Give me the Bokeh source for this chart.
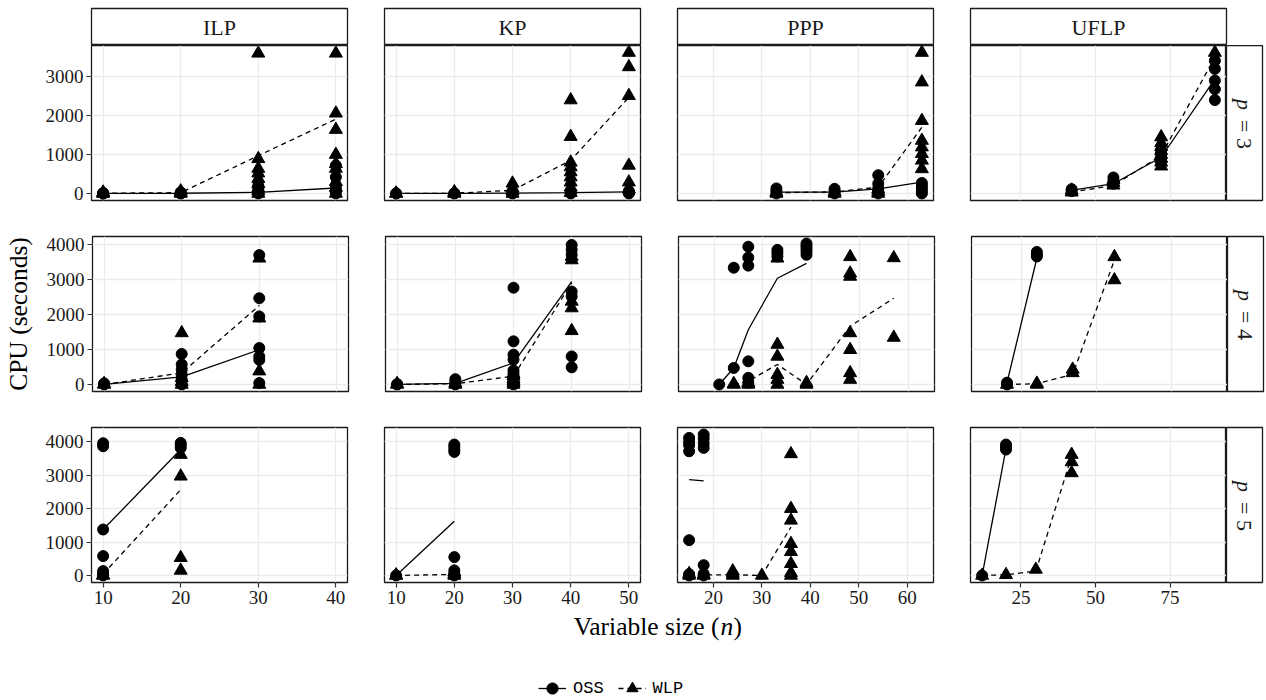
import math
from bokeh.plotting import figure
from bokeh.layouts import row, column
from bokeh.models import Range1d, FixedTicker, Legend, LegendItem
from bokeh.core.properties import value
from bokeh.embed import file_html
from bokeh.resources import INLINE

# ---------------- data ----------------
PROBLEMS = ["ILP", "KP", "PPP", "UFLP"]
P_VALUES = [3, 4, 5]
X_TICKS = {"ILP": [10, 20, 30, 40], "KP": [10, 20, 30, 40, 50],
           "PPP": [20, 30, 40, 50, 60], "UFLP": [25, 50, 75]}
Y_TICKS = {3: [0, 1000, 2000, 3000], 4: [0, 1000, 2000, 3000, 4000],
           5: [0, 1000, 2000, 3000, 4000]}

ILP_P3 = {
    "oss": {10: [0, 0, 5, 10], 20: [0, 5, 15, 30], 30: [0, 20, 60, 120, 200],
            40: [0, 80, 170, 420, 720]},
    "wlp": {10: [0, 10, 30], 20: [0, 20, 60],
            30: [0, 60, 130, 250, 380, 520, 640, 890, 3600],
            40: [0, 150, 300, 640, 760, 1000, 1640, 2060, 3600]},
    "oss_n": [10, 20, 30, 40], "oss_mean": [0, 5, 30, 140],
    "wlp_n": [10, 20, 30, 40], "wlp_mean": [5, 20, 970, 1910],
}
KP_P3 = {
    "oss": {10: [0, 0], 20: [0, 5], 30: [0, 10, 30], 40: [0, 15, 40], 50: [0, 20, 60]},
    "wlp": {10: [0, 5], 20: [0, 10, 40], 30: [0, 60, 140, 260],
            40: [20, 160, 290, 420, 550, 680, 800, 1460, 2400],
            50: [110, 290, 720, 2510, 3250, 3620]},
    "oss_n": [10, 20, 30, 40, 50], "oss_mean": [0, 0, 10, 20, 40],
    "wlp_n": [10, 20, 30, 40, 50], "wlp_mean": [0, 5, 80, 850, 2470],
}
PPP_P3 = {
    "oss": {33: [0, 60, 130], 45: [0, 60, 120], 54: [0, 60, 130, 250, 470],
            63: [0, 60, 130, 200, 270]},
    "wlp": {33: [0, 30], 45: [0, 40], 54: [0, 50, 110],
            63: [630, 850, 1020, 1190, 1360, 1870, 2860, 3620]},
    "oss_n": [33, 45, 54, 63], "oss_mean": [35, 35, 120, 290],
    "wlp_n": [33, 45, 54, 63], "wlp_mean": [20, 40, 160, 1700],
}
UFLP_P3 = {
    "oss": {42: [60, 110], 56: [250, 320, 410], 72: [800, 900, 1000, 1100],
            90: [2400, 2680, 2900, 3200, 3410]},
    "wlp": {42: [30, 80], 56: [210, 280, 350],
            72: [700, 800, 900, 1000, 1100, 1200, 1300, 1450], 90: [3620]},
    "oss_n": [42, 56, 72, 90], "oss_mean": [80, 250, 930, 2940],
    "wlp_n": [42, 56, 72, 90], "wlp_mean": [35, 205, 975, 3500],
}
ILP_P4 = {
    "oss": {10: [0, 10, 30], 20: [0, 140, 280, 425, 570, 870],
            30: [40, 700, 800, 1040, 1940, 2460, 3690]},
    "wlp": {10: [0, 20], 20: [0, 80, 190, 1470], 30: [0, 380, 1890, 3600]},
    "oss_n": [10, 20, 30], "oss_mean": [0, 215, 990],
    "wlp_n": [10, 20, 30], "wlp_mean": [0, 330, 2250],
}
KP_P4 = {
    "oss": {10: [0, 10], 20: [0, 60, 150],
            30: [0, 60, 130, 220, 300, 400, 710, 850, 1230, 2760],
            40: [490, 800, 2510, 2650, 3700, 3840, 3980]},
    "wlp": {10: [0, 20], 20: [0, 40], 30: [0, 50, 100, 160, 250, 300],
            40: [1530, 2180, 2370, 3550, 3650]},
    "oss_n": [10, 20, 30, 40], "oss_mean": [0, 30, 615, 2935],
    "wlp_n": [10, 20, 30, 40], "wlp_mean": [0, 20, 235, 2900],
}
PPP_P4 = {
    "oss": {21: [0], 24: [470, 3330], 27: [50, 190, 660, 3390, 3620, 3930],
            33: [3650, 3750, 3840], 39: [3700, 3800, 3880, 3950, 4020]},
    "wlp": {24: [0, 20], 27: [0, 50], 33: [0, 140, 280, 800, 1140, 3600],
            39: [0, 50], 48: [140, 330, 990, 1470, 3080, 3170, 3640],
            57: [1340, 3610]},
    "oss_n": [21, 24, 27, 33, 39], "oss_mean": [0, 470, 1560, 3030, 3455],
    "wlp_n": [24, 27, 33, 39, 48, 57], "wlp_mean": [0, 95, 570, 0, 1660, 2460],
}
UFLP_P4 = {
    "oss": {20: [0, 50], 30: [3650, 3700, 3780]},
    "wlp": {20: [0], 30: [0, 30], 42: [330, 430], 56: [2980, 3640]},
    "oss_n": [20, 30], "oss_mean": [50, 3600],
    "wlp_n": [20, 30, 42, 56], "wlp_mean": [0, 20, 285, 3550],
}
ILP_P5 = {
    "oss": {10: [0, 40, 130, 580, 1376, 3870, 3960], 20: [3820, 3900, 3970]},
    "wlp": {10: [0, 20], 20: [150, 530, 2970, 3620]},
    "oss_n": [10, 20], "oss_mean": [1376, 3772],
    "wlp_n": [10, 20], "wlp_mean": [40, 2570],
}
KP_P5 = {
    "oss": {10: [0], 20: [0, 60, 150, 550, 3700, 3770, 3850, 3920]},
    "wlp": {10: [0, 10], 20: [0, 40, 100]},
    "oss_n": [10, 20], "oss_mean": [0, 1625],
    "wlp_n": [10, 20], "wlp_mean": [0, 30],
}
PPP_P5 = {
    "oss": {15: [0, 40, 1057, 3720, 3900, 4000, 4120],
            18: [0, 50, 308, 3820, 3950, 4100, 4220]},
    "wlp": {15: [0, 50], 18: [0, 30], 24: [0, 60, 130], 30: [0],
            36: [0, 80, 350, 710, 950, 1650, 2000, 3640]},
    "oss_n": [15, 18], "oss_mean": [2870, 2830],
    "wlp_n": [15, 18, 24, 30, 36], "wlp_mean": [20, 20, 20, 0, 1450],
}
UFLP_P5 = {
    "oss": {12: [0], 20: [3770, 3850, 3920]},
    "wlp": {12: [0], 20: [20], 30: [180], 42: [3070, 3400, 3620]},
    "oss_n": [12, 20], "oss_mean": [0, 3800],
    "wlp_n": [12, 20, 30, 42], "wlp_mean": [0, 20, 130, 3570],
}

PANELS = {
    ("ILP", 3): ILP_P3, ("KP", 3): KP_P3, ("PPP", 3): PPP_P3, ("UFLP", 3): UFLP_P3,
    ("ILP", 4): ILP_P4, ("KP", 4): KP_P4, ("PPP", 4): PPP_P4, ("UFLP", 4): UFLP_P4,
    ("ILP", 5): ILP_P5, ("KP", 5): KP_P5, ("PPP", 5): PPP_P5, ("UFLP", 5): UFLP_P5,
}

# ---------------- styling ----------------
SERIF = "Liberation Serif"
MONO = "Liberation Mono"
INK = "#1a1a1a"
FRAME_W, FRAME_H = 256, 155
STRIP_H, STRIP_W = 37, 36
GRID_COLOR = "#ebebeb"
CIRCLE_SIZE, TRI_SIZE = 11, 13
DASH = "5 4"
TITLE_SIZE = "25.5px"
OUTLINE_W = 1.3
# vertical borders per row: (top, bottom) -> 36 px gaps between panel rows
ROW_BORDERS = [(0, 26), (10, 26), (10, 30)]


def flatten(groups):
    xs, ys = [], []
    for n, vals in groups.items():
        for v in vals:
            xs.append(n)
            ys.append(v)
    return xs, ys


def expand(lo, hi, frac=0.05):
    d = (hi - lo) * frac
    return lo - d, hi + d


# scale ranges (ggplot-like 5% expansion, free per column / per row)
X_RANGE = {}
for prob in PROBLEMS:
    ns = []
    for p in P_VALUES:
        d = PANELS[(prob, p)]
        ns += list(d["oss"].keys()) + list(d["wlp"].keys())
    X_RANGE[prob] = expand(min(ns), max(ns))
Y_RANGE = {}
for p in P_VALUES:
    vs = []
    for prob in PROBLEMS:
        d = PANELS[(prob, p)]
        vs += flatten(d["oss"])[1] + flatten(d["wlp"])[1]
    Y_RANGE[p] = expand(0, max(vs))


def base_fig(**kw):
    return figure(toolbar_location=None, output_backend="svg",
                  background_fill_color="white", border_fill_color="white", **kw)


def make_panel(prob, p, ri, ci):
    d = PANELS[(prob, p)]
    top, bottom = ROW_BORDERS[ri]
    f = base_fig(frame_width=FRAME_W, frame_height=FRAME_H,
                 x_range=Range1d(*X_RANGE[prob]), y_range=Range1d(*Y_RANGE[p]),
                 x_axis_location="below" if ri == 2 else None,
                 y_axis_location="left" if ci == 0 else None,
                 min_border_left=91 if ci == 0 else 35,
                 min_border_right=0 if ci == 3 else 2,
                 min_border_top=top, min_border_bottom=bottom,
                 outline_line_color=INK, outline_line_width=OUTLINE_W)
    f.xgrid.ticker = FixedTicker(ticks=X_TICKS[prob])
    f.ygrid.ticker = FixedTicker(ticks=Y_TICKS[p])
    f.grid.grid_line_color = GRID_COLOR
    f.grid.grid_line_width = 1.3
    axes = []
    if ri == 2:
        f.xaxis.ticker = FixedTicker(ticks=X_TICKS[prob])
        axes.append(f.xaxis)
    if ci == 0:
        f.yaxis.ticker = FixedTicker(ticks=Y_TICKS[p])
        axes.append(f.yaxis)
    for ax in axes:
        ax.axis_line_color = None
        ax.major_tick_out = 5
        ax.major_tick_in = 0
        ax.minor_tick_line_color = None
        ax.major_tick_line_color = "#333333"
        ax.major_tick_line_width = 1.2
        ax.major_label_text_font = SERIF
        ax.major_label_text_font_size = "19px"
        ax.major_label_text_color = INK
        ax.major_label_standoff = 3
    if ci == 0 and ri == 1:
        f.yaxis.axis_label = "CPU (seconds)"
        f.yaxis.axis_label_text_font = SERIF
        f.yaxis.axis_label_text_font_style = "normal"
        f.yaxis.axis_label_text_font_size = TITLE_SIZE
        f.yaxis.axis_label_text_color = "black"
        f.yaxis.axis_label_standoff = 11

    ox, oy = flatten(d["oss"])
    wx, wy = flatten(d["wlp"])
    f.scatter(ox, oy, marker="circle", size=CIRCLE_SIZE, color="black")
    f.scatter(wx, wy, marker="triangle", size=TRI_SIZE, color="black")
    f.line(d["oss_n"], d["oss_mean"], color="black", line_width=1.3)
    f.line(d["wlp_n"], d["wlp_mean"], color="black", line_width=1.3, line_dash=DASH)
    return f


def make_top_strip(prob, ci):
    f = base_fig(frame_width=FRAME_W, frame_height=STRIP_H,
                 x_range=Range1d(0, 1), y_range=Range1d(0, 1),
                 x_axis_location=None, y_axis_location=None,
                 min_border_left=91 if ci == 0 else 35, min_border_right=2,
                 min_border_top=8, min_border_bottom=0,
                 outline_line_color=INK, outline_line_width=OUTLINE_W)
    f.grid.visible = False
    f.text(x=[0.5], y=[0.5], text=[prob], text_align="center", text_baseline="middle",
           text_font=value(SERIF), text_font_size="22px", text_color=INK)
    return f


def make_right_strip(p, ri):
    top, bottom = ROW_BORDERS[ri]
    f = base_fig(frame_width=STRIP_W, frame_height=FRAME_H,
                 x_range=Range1d(0, STRIP_W), y_range=Range1d(FRAME_H, 0),
                 x_axis_location=None, y_axis_location=None,
                 min_border_left=0, min_border_right=2,
                 min_border_top=top, min_border_bottom=bottom,
                 outline_line_color=INK, outline_line_width=OUTLINE_W)
    f.grid.visible = False
    c = FRAME_H / 2
    f.text(x=[STRIP_W / 2], y=[c - 13], text=["p"], angle=-math.pi / 2,
           text_align="right", text_baseline="middle", text_font=value(SERIF),
           text_font_style="italic", text_font_size="22px", text_color=INK)
    f.text(x=[STRIP_W / 2], y=[c - 3], text=["= " + str(p)], angle=-math.pi / 2,
           text_align="left", text_baseline="middle", text_font=value(SERIF),
           text_font_size="22px", text_color=INK)
    return f


# ---------------- layout ----------------
rows = [row(*[make_top_strip(prob, ci) for ci, prob in enumerate(PROBLEMS)])]
for ri, p in enumerate(P_VALUES):
    figs = [make_panel(prob, p, ri, ci) for ci, prob in enumerate(PROBLEMS)]
    figs.append(make_right_strip(p, ri))
    rows.append(row(*figs))

FOOT_H = 88
foot = base_fig(frame_width=1266, frame_height=FOOT_H,
                x_range=Range1d(0, 1266), y_range=Range1d(FOOT_H, 0),
                x_axis_location=None, y_axis_location=None,
                min_border_left=0, min_border_right=0, min_border_top=0, min_border_bottom=0,
                outline_line_color=None)
foot.grid.visible = False
# x-axis title (with italic n)
foot.text(x=[719], y=[14], text=["Variable size ("], text_align="right",
          text_baseline="alphabetic", text_font=value(SERIF), text_font_size=TITLE_SIZE,
          text_color="black")
foot.text(x=[720], y=[14], text=["n"], text_align="left", text_baseline="alphabetic",
          text_font=value(SERIF), text_font_style="italic", text_font_size=TITLE_SIZE,
          text_color="black")
foot.text(x=[733], y=[14], text=[")"], text_align="left", text_baseline="alphabetic",
          text_font=value(SERIF), text_font_size=TITLE_SIZE, text_color="black")

# legend keys (off-screen dummy renderers)
lo = foot.line([-50, -40], [-50, -50], color="black", line_width=1.3)
so = foot.scatter([-50], [-50], marker="circle", size=CIRCLE_SIZE, color="black")
lw = foot.line([-50, -40], [-50, -50], color="black", line_width=1.3, line_dash=DASH)
sw = foot.scatter([-50], [-50], marker="triangle", size=TRI_SIZE, color="black")
legend = Legend(items=[LegendItem(label="OSS", renderers=[lo, so]),
                       LegendItem(label="WLP", renderers=[lw, sw])],
                orientation="horizontal", location=(538, -2),
                glyph_width=28, glyph_height=28, label_standoff=7, spacing=14,
                padding=0, margin=0, border_line_color=None, background_fill_alpha=0,
                label_text_font=MONO, label_text_font_size="17px", label_text_color="black")
foot.add_layout(legend, "center")
rows.append(foot)

layout = column(*rows)
open("out.html", "w").write(file_html(layout, INLINE, title="CPU"))
